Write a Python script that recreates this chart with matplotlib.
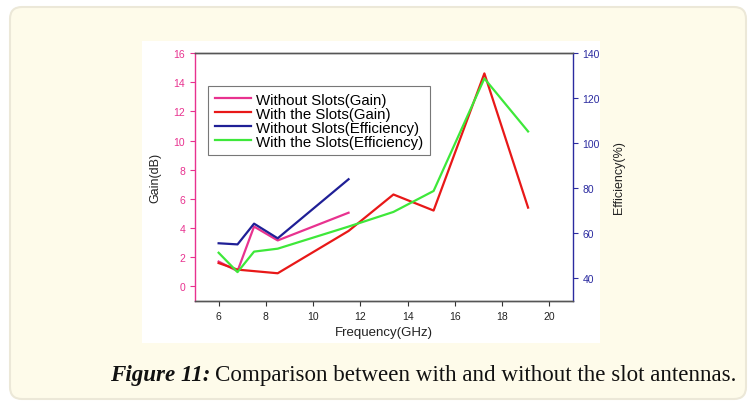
import matplotlib
matplotlib.use("Agg")
import matplotlib.pyplot as plt
from matplotlib.patches import FancyBboxPatch, Rectangle

# gain / efficiency readings
freq_nos = [6, 6.8, 7.5, 8.5, 11.5]
gain_nos = [1.7, 1.05, 4.1, 3.15, 5.05]
eff_nos = [55.6, 55.1, 64.3, 57.8, 84.0]

freq_slots = [6, 6.8, 8.5, 11.5, 13.4, 15.1, 17.25, 19.1]
gain_slots = [1.6, 1.15, 0.9, 3.8, 6.3, 5.2, 14.6, 5.4]
freq_slots_eff = [6, 6.8, 7.5, 8.5, 11.5, 13.4, 15.1, 17.25, 19.1]
eff_slots = [51.4, 42.8, 51.9, 53.2, 63.0, 69.5, 78.8, 128.7, 105.2]

gain_ticks = [0, 2, 4, 6, 8, 10, 12, 14, 16]
eff_ticks = [40, 60, 80, 100, 120, 140]
freq_ticks = [6, 8, 10, 12, 14, 16, 18, 20]

PINK = "#e8328f"
RED = "#e81818"
NAVY = "#1f1f96"
GREEN = "#3ee83a"
AXBLUE = "#2b2ba0"

plt.rcParams['font.family'] = ['Liberation Sans', 'DejaVu Sans']

fig = plt.figure(figsize=(7.48, 4.02), dpi=100)
fig.patch.set_facecolor("white")

# cream card with rounded corners behind everything
card = FancyBboxPatch((0.1, 0.02), 7.36, 3.92,
                      boxstyle="round,pad=0,rounding_size=0.12",
                      transform=fig.dpi_scale_trans,
                      facecolor="#fefbea", edgecolor="#ece8d8", linewidth=1.5,
                      zorder=-2)
fig.patches.append(card)
panel = Rectangle((0.1898, 0.1443), 0.6123, 0.7512, transform=fig.transFigure,
                  facecolor="white", edgecolor="none", zorder=-1)
fig.patches.append(panel)

ax = fig.add_axes([0.2607, 0.2488, 0.5053, 0.6169])
ax.set_facecolor("none")
ax2 = ax.twinx()

l1, = ax.plot(freq_nos, gain_nos, color=PINK, lw=1.6, label="Without Slots(Gain)")
l2, = ax.plot(freq_slots, gain_slots, color=RED, lw=1.6, label="With the Slots(Gain)")
l3, = ax2.plot(freq_nos, eff_nos, color=NAVY, lw=1.6, label="Without Slots(Efficiency)")
l4, = ax2.plot(freq_slots_eff, eff_slots, color=GREEN, lw=1.6, label="With the Slots(Efficiency)")

ax.set_xlim(5, 21)
ax.set_ylim(-1, 16)
ax2.set_ylim(30, 140)
ax.set_xticks(freq_ticks)
ax.set_yticks(gain_ticks)
ax2.set_yticks(eff_ticks)

ax.tick_params(axis='y', colors=PINK, labelsize=7.5, length=3.5, width=0.8)
ax.tick_params(axis='x', colors="#333333", labelsize=7.5, length=3.5, width=0.8)
ax.tick_params(axis='x', labelcolor="#222222")
ax2.tick_params(axis='y', colors=AXBLUE, labelsize=7.5, length=3.5, width=0.8)

for a in (ax, ax2):
    a.spines['top'].set_color("#555555")
    a.spines['bottom'].set_color("#555555")
    for s in a.spines.values():
        s.set_linewidth(1.0)
ax.spines['left'].set_color(PINK)
ax.spines['right'].set_visible(False)
ax2.spines['left'].set_visible(False)
ax2.spines['right'].set_color(AXBLUE)

ax.set_xlabel("Frequency(GHz)", fontsize=9.5, color="#222222", labelpad=4)
ax.set_ylabel("Gain(dB)", fontsize=9, color="#222222", labelpad=9)
ax2.set_ylabel("Efficiency(%)", fontsize=9, color="#222222", labelpad=9, rotation=90)

leg = ax.legend(handles=[l1, l2, l3, l4], loc="upper left",
                bbox_to_anchor=(0.034, 0.867), borderaxespad=0,
                fontsize=10.8, handlelength=2.4,
                labelspacing=0.0, borderpad=0.45, handletextpad=0.35,
                fancybox=False, framealpha=1)
leg.get_frame().set_edgecolor("#777777")
leg.get_frame().set_linewidth(0.8)

# caption: bold italic lead-in followed by plain text
cap_y = 0.052
lead = fig.text(0.147, cap_y, "Figure 11:", fontsize=16.6, family="Liberation Serif",
                fontweight="bold", fontstyle="italic", color="#111111", va="baseline")
fig.canvas.draw()
bb = lead.get_window_extent().transformed(fig.transFigure.inverted())
fig.text(bb.x1 + 0.006, cap_y, "Comparison between with and without the slot antennas.",
         fontsize=16.6, family="Liberation Serif", color="#111111", va="baseline")

fig.savefig("out.png", dpi=100)
